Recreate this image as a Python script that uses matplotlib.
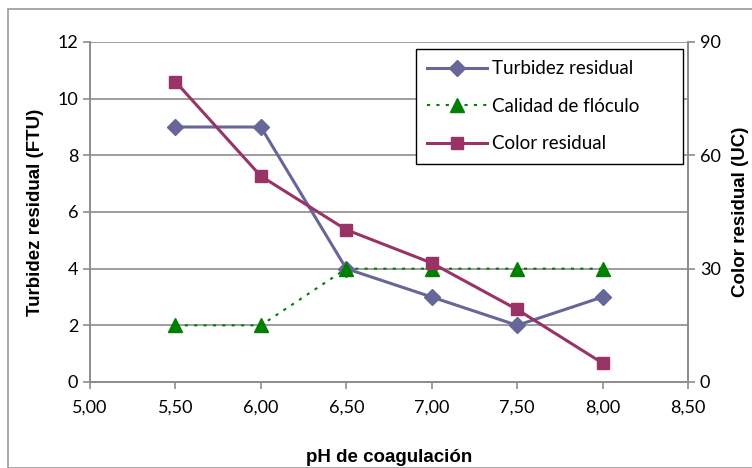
import matplotlib
matplotlib.use("Agg")
import matplotlib.pyplot as plt
from matplotlib.patches import Rectangle

ph = [5.5, 6.0, 6.5, 7.0, 7.5, 8.0]
turbidez = [9, 9, 4, 3, 2, 3]
calidad = [2, 2, 4, 4, 4, 4]
color_res = [79.5, 54.5, 40.3, 31.5, 19.2, 5.0]

xticks = [5.0, 5.5, 6.0, 6.5, 7.0, 7.5, 8.0, 8.5]
xtick_labels = ["5,00", "5,50", "6,00", "6,50", "7,00", "7,50", "8,00", "8,50"]
yticks_left = [0, 2, 4, 6, 8, 10, 12]
yticks_right = [0, 30, 60, 90]

fig = plt.figure(figsize=(7.52, 4.68), dpi=100)
W, H = 752, 468
ax = fig.add_axes([90 / W, 1 - 382 / H, (688 - 90) / W, (382 - 42) / H])
ax2 = ax.twinx()

fig.patches.append(Rectangle((8 / W, 0), 1, 1 - 9 / H, transform=fig.transFigure,
                             fill=False, edgecolor="#999999", lw=1.2))

tick_font = "Lato"
grid_c = "#8c8c8c"
tfs = 13

ax.set_xlim(5.0, 8.5)
ax.set_ylim(0, 12)
ax2.set_ylim(0, 90)
ax.set_xticks(xticks)
ax.set_xticklabels(xtick_labels, fontsize=tfs, family=tick_font)
ax.set_yticks(yticks_left)
ax.set_yticklabels([str(v) for v in yticks_left], fontsize=tfs, family=tick_font)
ax2.set_yticks(yticks_right)
ax2.set_yticklabels([str(v) for v in yticks_right], fontsize=tfs, family=tick_font)

ax.grid(axis="y", color=grid_c, lw=1.2)
ax.set_axisbelow(True)
for a in (ax, ax2):
    for s in a.spines.values():
        s.set_color(grid_c)
        s.set_linewidth(1.2)
    a.spines["top"].set_visible(False)
    a.tick_params(colors=grid_c, labelcolor="black", length=5, width=1.2, direction="out")
ax.tick_params(axis="x", pad=8)

l1, = ax.plot(ph, turbidez, color="#666699", lw=2.2, marker="D", ms=8,
              label="Turbidez residual", zorder=3)
l2, = ax.plot(ph, calidad, color="#008000", lw=1.5, ls=(0, (1.5, 3)), marker="^", ms=10,
              label="Calidad de flóculo", zorder=3)
l3, = ax2.plot(ph, color_res, color="#993366", lw=2.2, marker="s", ms=9,
               label="Color residual", zorder=3)

lab_font = {"fontsize": 13.5, "fontweight": "bold", "family": "Liberation Sans"}
ax.set_xlabel("pH de coagulación", labelpad=24, **lab_font)
ax.set_ylabel("Turbidez residual (FTU)", labelpad=10, **lab_font)
ax2.set_ylabel("Color residual (UC)", labelpad=8, **lab_font)

x0 = (416 - 90) / (688 - 90)
w = (683 - 416) / (688 - 90)
y1 = 1 - (49 - 42) / 340
h = (162 - 49) / 340
leg = ax2.legend(handles=[l1, l2, l3], loc="upper left",
                 bbox_to_anchor=(x0, y1 - h, w, h), mode="expand", borderaxespad=0,
                 frameon=True, fancybox=False, edgecolor="black", framealpha=1,
                 prop={"family": tick_font, "size": 13.5}, handlelength=3.2,
                 labelspacing=1.1, borderpad=0.6, handletextpad=0.25)
leg.get_frame().set_linewidth(1.0)

fig.savefig("out.png", dpi=100)
